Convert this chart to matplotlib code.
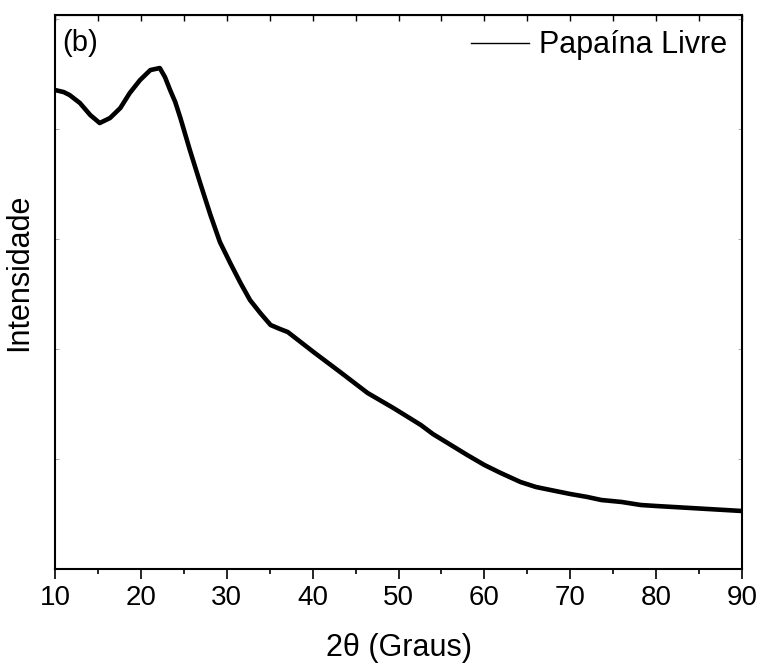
import numpy as np
import matplotlib.pyplot as plt
from matplotlib.ticker import MultipleLocator, NullFormatter

plt.rcParams['font.family'] = ['Liberation Sans', 'DejaVu Sans']

# 2theta (degrees) and intensity (arbitrary units)
two_theta = [10.0, 11.0, 11.7, 12.9, 14.1, 15.2, 16.4, 17.6, 18.7, 19.9, 21.1, 22.2,
             22.8, 23.4, 24.0, 24.6, 25.7, 26.9, 28.1, 29.2, 30.4, 31.6, 32.7,
             33.9, 35.1, 36.2, 37.1, 38.6, 40.1, 43.2, 46.4, 49.4, 52.6,
             54.0, 56.1, 58.0, 60.0, 61.9, 64.2, 66.0, 67.7, 70.0, 72.0,
             73.6, 76.0, 78.2, 80.0, 82.0, 84.0, 86.0, 88.0, 90.0]
intensity = [479, 477, 474, 466, 454, 446, 451, 461, 476, 489, 499, 501,
             492, 479, 467, 451, 419, 386, 354, 327, 306, 286, 269,
             256, 244, 240, 237, 227, 217, 197, 176, 161, 144,
             135, 124, 114, 104, 96, 87, 82, 79, 75, 72,
             69, 67, 64, 63, 62, 61, 60, 59, 58]

fig = plt.figure(figsize=(7.57, 6.63), dpi=100)
ax = fig.add_axes([0.0727, 0.1418, 0.9075, 0.8355])

ax.plot(two_theta, intensity, color='black', lw=3.3, solid_joinstyle='round',
        label='Papaína Livre')

ax.set_xlim(10, 90)
ax.set_ylim(0, 554)
ax.xaxis.set_major_locator(MultipleLocator(10))
ax.xaxis.set_minor_locator(MultipleLocator(5))
ax.yaxis.set_major_locator(MultipleLocator(110))
ax.yaxis.set_major_formatter(NullFormatter())
ax.tick_params(axis='x', which='major', direction='out', length=7.5, width=1.2,
               labelsize=20, pad=4, top=False)
ax.tick_params(axis='x', which='minor', direction='out', length=3.5, width=1.2, top=False)
ax.tick_params(axis='y', which='major', direction='in', length=3, width=0.6,
               color='#999999', left=True, right=True)
for s in ax.spines.values():
    s.set_linewidth(1.5)

# top axis ticks pointing inward
sec = ax.secondary_xaxis('top')
sec.xaxis.set_major_locator(MultipleLocator(5))
sec.xaxis.set_major_formatter(NullFormatter())
sec.tick_params(direction='in', length=4, width=1)

ax.set_xlabel('2θ (Graus)', fontsize=22, labelpad=16)
ax.set_ylabel('Intensidade', fontsize=22)
ax.yaxis.set_label_coords(-0.031, 0.536)

ax.text(0.01, 0.975, '(b)', transform=ax.transAxes, fontsize=21,
        ha='left', va='top')

ax.legend(loc='upper right', frameon=False, fontsize=22, handlelength=1.9,
          handletextpad=0.3, borderaxespad=0.1)
leg = ax.get_legend()
for h in leg.get_lines():
    h.set_linewidth(1.0)

fig.savefig('out.png', dpi=100)
